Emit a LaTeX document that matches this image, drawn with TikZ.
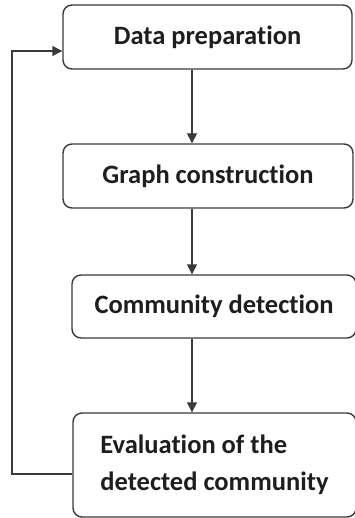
\documentclass[tikz,border=0pt]{standalone}
\usepackage{fontspec}
\setmainfont{Carlito}[Ligatures=NoCommon]
\usetikzlibrary{arrows.meta}
\definecolor{linegray}{HTML}{3A3A3A}
\definecolor{txt}{HTML}{1E1E1E}
\tikzset{
  stepbox/.style={draw=linegray, line width=1.4pt, rounded corners=9pt, fill=white,
    text=txt, font=\fontsize{26.5}{37}\selectfont\bfseries, inner sep=0pt, align=center},
  flow/.style={draw=linegray, line width=1.4pt, -{Triangle[length=10pt,width=10pt]}},
}
\begin{document}
\begin{tikzpicture}[x=1pt,y=-1pt]
\useasboundingbox (0,0) rectangle (355,518);
\node[stepbox, minimum width=289pt, minimum height=64pt] (b1) at (207.5,37) {Data preparation};
\node[stepbox, minimum width=290pt, minimum height=64pt] (b2) at (208,176) {Graph construction};
\node[stepbox, minimum width=284pt, minimum height=63pt] (b3) at (214,306.5) {Community detection};
\node[stepbox, minimum width=283pt, minimum height=104pt, align=left] (b4) at (214.5,465) {Evaluation of the\\detected community};
\coordinate (ax) at (192,0);
\draw[flow] (b1.south -| ax) -- (b2.north -| ax);
\draw[flow] (b2.south -| ax) -- (b3.north -| ax);
\draw[flow] (b3.south -| ax) -- (b4.north -| ax);
\coordinate (lb) at (12,474);
\coordinate (lt) at (12,51);
\draw[flow] (b4.west |- lb) -- (lb) -- (lt) -- (b1.west |- lt);
\end{tikzpicture}
\end{document}
